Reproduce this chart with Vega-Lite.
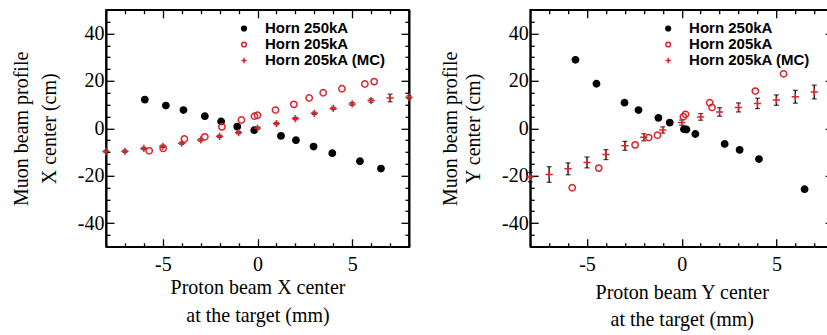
{
  "$schema": "https://vega.github.io/schema/vega-lite/v6.json",
  "padding": {"left": 10, "top": 7.8, "right": 0, "bottom": 0},
  "spacing": 22.2,
  "config": {
    "view": {"stroke": "black", "strokeWidth": 1.6},
    "style": {"guide-label": {"font": "Liberation Serif", "fontSize": 20, "fill": "black"}, "guide-title": {"font": "Liberation Serif", "fontSize": 20, "fill": "black"}},
    "axis": {
      "labelFont": "Liberation Serif", "labelFontSize": 20, "labelColor": "black",
      "titleFont": "Liberation Serif", "titleFontSize": 20, "titleFontWeight": "normal", "titleColor": "black",
      "tickColor": "black", "tickWidth": 1.3, "domain": true, "domainColor": "black", "domainWidth": 1.6, "grid": false,
      "labelOverlap": false, "labelFlush": false
    },
    "legend": {
      "labelFont": "Liberation Sans", "labelFontSize": 15, "labelFontWeight": "bold", "labelColor": "black",
      "symbolSize": 22, "symbolStrokeWidth": 1.5, "symbolOpacity": 1, "padding": 0, "rowPadding": -2.9, "labelOffset": 13.4
    }
  },
  "datasets": {
    "left": [
      {"x": -5.95, "y": 12.1, "series": "Horn 250kA"},
      {"x": -4.84, "y": 9.6, "series": "Horn 250kA"},
      {"x": -3.91, "y": 7.7, "series": "Horn 250kA"},
      {"x": -2.78, "y": 5.1, "series": "Horn 250kA"},
      {"x": -1.92, "y": 2.9, "series": "Horn 250kA"},
      {"x": -1.07, "y": 0.7, "series": "Horn 250kA"},
      {"x": -0.17, "y": -0.8, "series": "Horn 250kA"},
      {"x": 1.24, "y": -3.2, "series": "Horn 250kA"},
      {"x": 2.03, "y": -5.0, "series": "Horn 250kA"},
      {"x": 2.96, "y": -7.7, "series": "Horn 250kA"},
      {"x": 3.95, "y": -10.5, "series": "Horn 250kA"},
      {"x": 5.41, "y": -13.9, "series": "Horn 250kA"},
      {"x": 6.52, "y": -17.0, "series": "Horn 250kA"},
      {"x": -5.72, "y": -9.5, "series": "Horn 205kA"},
      {"x": -4.98, "y": -8.5, "series": "Horn 205kA"},
      {"x": -3.86, "y": -4.5, "series": "Horn 205kA"},
      {"x": -2.78, "y": -3.6, "series": "Horn 205kA"},
      {"x": -1.88, "y": 0.6, "series": "Horn 205kA"},
      {"x": -0.85, "y": 3.5, "series": "Horn 205kA"},
      {"x": -0.16, "y": 5.1, "series": "Horn 205kA"},
      {"x": 0.0, "y": 5.5, "series": "Horn 205kA"},
      {"x": 0.95, "y": 7.7, "series": "Horn 205kA"},
      {"x": 1.92, "y": 10.1, "series": "Horn 205kA"},
      {"x": 2.73, "y": 12.8, "series": "Horn 205kA"},
      {"x": 3.47, "y": 15.0, "series": "Horn 205kA"},
      {"x": 4.46, "y": 16.7, "series": "Horn 205kA"},
      {"x": 5.67, "y": 18.7, "series": "Horn 205kA"},
      {"x": 6.16, "y": 19.7, "series": "Horn 205kA"},
      {"x": -8, "y": -9.8, "err": 0.5, "series": "Horn 205kA (MC)"},
      {"x": -7, "y": -9.7, "err": 0.5, "series": "Horn 205kA (MC)"},
      {"x": -6, "y": -8.5, "err": 0.5, "series": "Horn 205kA (MC)"},
      {"x": -5, "y": -7.6, "err": 0.5, "series": "Horn 205kA (MC)"},
      {"x": -4, "y": -6.3, "err": 0.5, "series": "Horn 205kA (MC)"},
      {"x": -3, "y": -4.9, "err": 0.5, "series": "Horn 205kA (MC)"},
      {"x": -2, "y": -3.4, "err": 0.5, "series": "Horn 205kA (MC)"},
      {"x": -1, "y": -1.8, "err": 0.5, "series": "Horn 205kA (MC)"},
      {"x": 0, "y": 0.1, "err": 0.5, "series": "Horn 205kA (MC)"},
      {"x": 1, "y": 2.0, "err": 0.5, "series": "Horn 205kA (MC)"},
      {"x": 2, "y": 4.1, "err": 0.5, "series": "Horn 205kA (MC)"},
      {"x": 3, "y": 6.3, "err": 0.5, "series": "Horn 205kA (MC)"},
      {"x": 4, "y": 8.4, "err": 0.5, "series": "Horn 205kA (MC)"},
      {"x": 5, "y": 10.3, "err": 0.6, "series": "Horn 205kA (MC)"},
      {"x": 6, "y": 11.7, "err": 0.7, "series": "Horn 205kA (MC)"},
      {"x": 7, "y": 12.8, "err": 1.6, "series": "Horn 205kA (MC)"},
      {"x": 8, "y": 13.1, "err": 0.6, "series": "Horn 205kA (MC)"}
    ],
    "right": [
      {"x": -5.61, "y": 28.9, "series": "Horn 250kA"},
      {"x": -4.50, "y": 18.8, "series": "Horn 250kA"},
      {"x": -3.02, "y": 10.8, "series": "Horn 250kA"},
      {"x": -2.28, "y": 7.7, "series": "Horn 250kA"},
      {"x": -1.23, "y": 4.4, "series": "Horn 250kA"},
      {"x": -0.63, "y": 2.4, "series": "Horn 250kA"},
      {"x": 0.12, "y": -0.4, "series": "Horn 250kA"},
      {"x": 0.25, "y": -0.5, "series": "Horn 250kA"},
      {"x": 0.72, "y": -2.4, "series": "Horn 250kA"},
      {"x": 2.27, "y": -6.6, "series": "Horn 250kA"},
      {"x": 3.06, "y": -9.1, "series": "Horn 250kA"},
      {"x": 4.08, "y": -13.0, "series": "Horn 250kA"},
      {"x": 6.49, "y": -25.7, "series": "Horn 250kA"},
      {"x": -5.78, "y": -25.1, "series": "Horn 205kA"},
      {"x": -4.38, "y": -16.8, "series": "Horn 205kA"},
      {"x": -2.46, "y": -7.0, "series": "Horn 205kA"},
      {"x": -1.74, "y": -3.9, "series": "Horn 205kA"},
      {"x": -1.28, "y": -2.9, "series": "Horn 205kA"},
      {"x": 0.09, "y": 4.9, "series": "Horn 205kA"},
      {"x": 0.20, "y": 5.9, "series": "Horn 205kA"},
      {"x": 1.48, "y": 10.8, "series": "Horn 205kA"},
      {"x": 1.60, "y": 8.8, "series": "Horn 205kA"},
      {"x": 3.89, "y": 15.7, "series": "Horn 205kA"},
      {"x": 5.38, "y": 23.0, "series": "Horn 205kA"},
      {"x": -8, "y": -20.6, "err": 2.0, "series": "Horn 205kA (MC)"},
      {"x": -7, "y": -19.5, "err": 3.3, "series": "Horn 205kA (MC)"},
      {"x": -6, "y": -17.1, "err": 2.5, "series": "Horn 205kA (MC)"},
      {"x": -5, "y": -14.4, "err": 2.3, "series": "Horn 205kA (MC)"},
      {"x": -4, "y": -11.1, "err": 2.1, "series": "Horn 205kA (MC)"},
      {"x": -3, "y": -7.4, "err": 1.9, "series": "Horn 205kA (MC)"},
      {"x": -2, "y": -3.8, "err": 1.5, "series": "Horn 205kA (MC)"},
      {"x": -1, "y": -0.7, "err": 1.3, "series": "Horn 205kA (MC)"},
      {"x": 0, "y": 2.4, "err": 1.1, "series": "Horn 205kA (MC)"},
      {"x": 1, "y": 4.8, "err": 1.4, "series": "Horn 205kA (MC)"},
      {"x": 2, "y": 6.9, "err": 1.8, "series": "Horn 205kA (MC)"},
      {"x": 3, "y": 8.8, "err": 1.9, "series": "Horn 205kA (MC)"},
      {"x": 4, "y": 10.5, "err": 2.2, "series": "Horn 205kA (MC)"},
      {"x": 5, "y": 11.9, "err": 2.2, "series": "Horn 205kA (MC)"},
      {"x": 6, "y": 13.3, "err": 2.7, "series": "Horn 205kA (MC)"},
      {"x": 7, "y": 15.3, "err": 2.9, "series": "Horn 205kA (MC)"}
    ]
  },
  "resolve": {
    "scale": {"shape": "independent", "fill": "independent", "stroke": "independent"},
    "legend": {"shape": "independent", "fill": "independent", "stroke": "independent"}
  },
  "hconcat": [
    {
      "width": 303, "height": 237,
      "data": {"name": "left"},
      "layer": [
        {
          "mark": {"type": "point", "opacity": 0, "size": 1},
          "encoding": {
            "x": {"field": "x", "type": "quantitative", "scale": {"domain": [-8, 8]},
                  "axis": {"orient": "bottom", "values": [-8,-7,-6,-4,-3,-2,-1,1,2,3,4,6,7,8], "labels": false, "title": null, "tickSize": -4}},
            "y": {"field": "y", "type": "quantitative", "scale": {"domain": [-50, 50]},
                  "axis": {"orient": "left", "values": [-50,-45,-35,-30,-25,-15,-10,-5,5,10,15,25,30,35,45,50], "labels": false, "title": null, "tickSize": -4}}
          }
        },
        {
          "mark": {"type": "point", "opacity": 0, "size": 1},
          "encoding": {
            "x": {"field": "x", "type": "quantitative", "scale": {"domain": [-8, 8]},
                  "axis": {"orient": "top", "values": [-8,-7,-6,-4,-3,-2,-1,1,2,3,4,6,7,8], "labels": false, "title": null, "tickSize": -4}},
            "y": {"field": "y", "type": "quantitative", "scale": {"domain": [-50, 50]},
                  "axis": {"orient": "right", "values": [-50,-45,-35,-30,-25,-15,-10,-5,5,10,15,25,30,35,45,50], "labels": false, "title": null, "tickSize": -4}}
          }
        },
        {
          "transform": [{"filter": "isValid(datum.err)"}],
          "mark": {"type": "errorbar", "ticks": {"size": 5, "thickness": 1.3, "color": "black"}, "rule": {"strokeWidth": 1.3, "color": "black"}},
          "encoding": {
            "x": {"field": "x", "type": "quantitative", "scale": {"domain": [-8, 8]},
                  "axis": {"orient": "top", "values": [-5, 0, 5], "labels": false, "title": null, "tickSize": -8}},
            "y": {"field": "y", "type": "quantitative", "scale": {"domain": [-50, 50]},
                  "axis": {"orient": "right", "values": [-40, -20, 0, 20, 40], "labels": false, "title": null, "tickSize": -8}},
            "yError": {"field": "err"}
          }
        },
        {
          "mark": {"type": "point", "size": 40, "strokeWidth": 1.5, "opacity": 1},
          "encoding": {
            "x": {"field": "x", "type": "quantitative", "scale": {"domain": [-8, 8]},
                  "axis": {"orient": "bottom", "values": [-5, 0, 5], "labelExpr": "toString(datum.value)",
                           "labelFont": "Liberation Serif", "labelFontWeight": "normal",
                           "tickSize": -8, "labelPadding": 15.5, "titlePadding": 3, "titleLineHeight": 28,
                           "title": ["Proton beam X center", "at the target (mm)"]}},
            "y": {"field": "y", "type": "quantitative", "scale": {"domain": [-50, 50]},
                  "axis": {"orient": "left", "values": [-40, -20, 0, 20, 40], "labelExpr": "toString(datum.value)",
                           "labelFont": "Liberation Serif", "labelFontWeight": "normal",
                           "tickSize": -8, "labelPadding": 10, "titlePadding": 17.8, "titleLineHeight": 28,
                           "title": ["Muon beam profile", "X center (cm)"]}},
            "shape": {"field": "series", "type": "nominal",
                      "scale": {"domain": ["Horn 250kA", "Horn 205kA", "Horn 205kA (MC)"], "range": ["circle", "circle", "M-1.15,0H1.15M0,-1.15V1.15"]},
                      "legend": {"title": null, "orient": "none", "legendX": 130.5, "legendY": 11.2}},
            "fill": {"field": "series", "type": "nominal",
                     "scale": {"domain": ["Horn 250kA", "Horn 205kA", "Horn 205kA (MC)"], "range": ["black", "transparent", "transparent"]},
                     "legend": {"title": null, "orient": "none", "legendX": 130.5, "legendY": 11.2}},
            "stroke": {"field": "series", "type": "nominal",
                       "scale": {"domain": ["Horn 250kA", "Horn 205kA", "Horn 205kA (MC)"], "range": ["black", "#d9262b", "#d9262b"]},
                       "legend": {"title": null, "orient": "none", "legendX": 130.5, "legendY": 11.2}}
          }
        }
      ],
      "resolve": {"axis": {"x": "independent", "y": "independent"}}
    },
    {
      "width": 303, "height": 237,
      "data": {"name": "right"},
      "layer": [
        {
          "mark": {"type": "point", "opacity": 0, "size": 1},
          "encoding": {
            "x": {"field": "x", "type": "quantitative", "scale": {"domain": [-8, 8]},
                  "axis": {"orient": "bottom", "values": [-8,-7,-6,-4,-3,-2,-1,1,2,3,4,6,7,8], "labels": false, "title": null, "tickSize": -4}},
            "y": {"field": "y", "type": "quantitative", "scale": {"domain": [-50, 50]},
                  "axis": {"orient": "left", "values": [-50,-45,-35,-30,-25,-15,-10,-5,5,10,15,25,30,35,45,50], "labels": false, "title": null, "tickSize": -4}}
          }
        },
        {
          "mark": {"type": "point", "opacity": 0, "size": 1},
          "encoding": {
            "x": {"field": "x", "type": "quantitative", "scale": {"domain": [-8, 8]},
                  "axis": {"orient": "top", "values": [-8,-7,-6,-4,-3,-2,-1,1,2,3,4,6,7,8], "labels": false, "title": null, "tickSize": -4}},
            "y": {"field": "y", "type": "quantitative", "scale": {"domain": [-50, 50]},
                  "axis": {"orient": "right", "values": [-50,-45,-35,-30,-25,-15,-10,-5,5,10,15,25,30,35,45,50], "labels": false, "title": null, "tickSize": -4}}
          }
        },
        {
          "transform": [{"filter": "isValid(datum.err)"}],
          "mark": {"type": "errorbar", "ticks": {"size": 5, "thickness": 1.3, "color": "black"}, "rule": {"strokeWidth": 1.3, "color": "black"}},
          "encoding": {
            "x": {"field": "x", "type": "quantitative", "scale": {"domain": [-8, 8]},
                  "axis": {"orient": "top", "values": [-5, 0, 5], "labels": false, "title": null, "tickSize": -8}},
            "y": {"field": "y", "type": "quantitative", "scale": {"domain": [-50, 50]},
                  "axis": {"orient": "right", "values": [-40, -20, 0, 20, 40], "labels": false, "title": null, "tickSize": -8}},
            "yError": {"field": "err"}
          }
        },
        {
          "mark": {"type": "point", "size": 40, "strokeWidth": 1.5, "opacity": 1},
          "encoding": {
            "x": {"field": "x", "type": "quantitative", "scale": {"domain": [-8, 8]},
                  "axis": {"orient": "bottom", "values": [-5, 0, 5], "labelExpr": "toString(datum.value)",
                           "labelFont": "Liberation Serif", "labelFontWeight": "normal",
                           "tickSize": -8, "labelPadding": 15.5, "titlePadding": 8.5, "titleLineHeight": 27,
                           "title": ["Proton beam Y center", "at the target (mm)"]}},
            "y": {"field": "y", "type": "quantitative", "scale": {"domain": [-50, 50]},
                  "axis": {"orient": "left", "values": [-40, -20, 0, 20, 40], "labelExpr": "toString(datum.value)",
                           "labelFont": "Liberation Serif", "labelFontWeight": "normal",
                           "tickSize": -8, "labelPadding": 10, "titlePadding": 18.2, "titleLineHeight": 23,
                           "title": ["Muon beam profile", "Y center (cm)"]}},
            "shape": {"field": "series", "type": "nominal",
                      "scale": {"domain": ["Horn 250kA", "Horn 205kA", "Horn 205kA (MC)"], "range": ["circle", "circle", "M-1.15,0H1.15M0,-1.15V1.15"]},
                      "legend": {"title": null, "orient": "none", "legendX": 130.5, "legendY": 11.2}},
            "fill": {"field": "series", "type": "nominal",
                     "scale": {"domain": ["Horn 250kA", "Horn 205kA", "Horn 205kA (MC)"], "range": ["black", "transparent", "transparent"]},
                     "legend": {"title": null, "orient": "none", "legendX": 130.5, "legendY": 11.2}},
            "stroke": {"field": "series", "type": "nominal",
                       "scale": {"domain": ["Horn 250kA", "Horn 205kA", "Horn 205kA (MC)"], "range": ["black", "#d9262b", "#d9262b"]},
                       "legend": {"title": null, "orient": "none", "legendX": 130.5, "legendY": 11.2}}
          }
        }
      ],
      "resolve": {"axis": {"x": "independent", "y": "independent"}}
    }
  ]
}
